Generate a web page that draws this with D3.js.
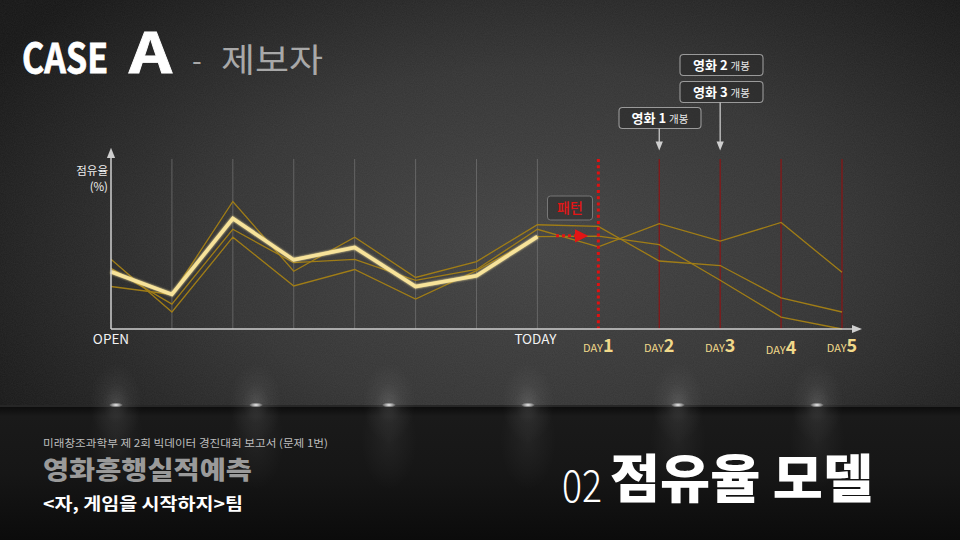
<!DOCTYPE html>
<html><head><meta charset="utf-8">
<script src="https://cdn.jsdelivr.net/npm/d3@7"></script>
<style>
html,body{margin:0;padding:0;background:#111;}
svg{display:block;}
text{font-family:"Noto Sans CJK KR","Noto Sans",sans-serif;}
</style></head>
<body>
<svg id="c" width="960" height="540"></svg>
<script>
// ---------- data ----------
const categories = ["OPEN","","","","","","","TODAY","DAY1","DAY2","DAY3","DAY4","DAY5"];
const dayLabels = ["1","2","3","4","5"];
const mainSeries = [10.1, 6.1, 19.5, 12.2, 14.4, 7.5, 9.4, 16.3];
const thinSeriesA = [12.3, 3.0, 16.2, 7.6, 10.5, 5.3, 10.3, 16.3, 16.4, 14.9, 8.6, 2.1, 0.0];
const thinSeriesB = [10.7, 4.4, 17.6, 11.7, 12.3, 8.6, 10.5, 17.6, 14.5, 18.6, 15.5, 18.8, 10.0];
const thinSeriesC = [7.5, 6.1, 22.5, 10.2, 16.2, 9.1, 11.9, 18.4, 18.1, 12.0, 11.2, 5.5, 3.0];
const releases = [
  {movie:"영화", num:"1", tail:"개봉", day:9},
  {movie:"영화", num:"2", tail:"개봉", day:10},
  {movie:"영화", num:"3", tail:"개봉", day:10}
];
const yAxisTitle = ["점유율","(%)"];
const patternLabel = "패턴";

// ---------- setup ----------
const svg = d3.select("#c");
const defs = svg.append("defs");

const bg = defs.append("radialGradient").attr("id","bg")
  .attr("cx","0.55").attr("cy","0.45").attr("r","0.65");
bg.append("stop").attr("offset","0").attr("stop-color","#434343");
bg.append("stop").attr("offset","0.5").attr("stop-color","#343434");
bg.append("stop").attr("offset","1").attr("stop-color","#161616");

const floor = defs.append("linearGradient").attr("id","floor").attr("x1",0).attr("y1",0).attr("x2",0).attr("y2",1);
floor.append("stop").attr("offset","0").attr("stop-color","#0d0d0d");
floor.append("stop").attr("offset","0.07").attr("stop-color","#1a1a1a");
floor.append("stop").attr("offset","0.5").attr("stop-color","#161616");
floor.append("stop").attr("offset","1").attr("stop-color","#0b0b0b");

const cone = defs.append("radialGradient").attr("id","cone");
cone.append("stop").attr("offset","0").attr("stop-color","#fff").attr("stop-opacity",0.13);
cone.append("stop").attr("offset","0.5").attr("stop-color","#fff").attr("stop-opacity",0.04);
cone.append("stop").attr("offset","1").attr("stop-color","#fff").attr("stop-opacity",0);

const refl = defs.append("radialGradient").attr("id","refl");
refl.append("stop").attr("offset","0").attr("stop-color","#fff").attr("stop-opacity",0.05);
refl.append("stop").attr("offset","1").attr("stop-color","#fff").attr("stop-opacity",0);

const spot = defs.append("radialGradient").attr("id","spot");
spot.append("stop").attr("offset","0").attr("stop-color","#fff").attr("stop-opacity",1);
spot.append("stop").attr("offset","0.5").attr("stop-color","#ddd").attr("stop-opacity",0.6);
spot.append("stop").attr("offset","1").attr("stop-color","#fff").attr("stop-opacity",0);

const noise = defs.append("filter").attr("id","noise").attr("x",0).attr("y",0).attr("width","100%").attr("height","100%");
noise.append("feTurbulence").attr("type","fractalNoise").attr("baseFrequency","0.9").attr("numOctaves","2").attr("seed","3").attr("result","n");
noise.append("feColorMatrix").attr("type","matrix")
  .attr("values","0 0 0 0 1  0 0 0 0 1  0 0 0 0 1  0 0 0 0.06 0");

const glow = defs.append("filter").attr("id","glow").attr("x","-10%").attr("y","-10%").attr("width","120%").attr("height","120%");
glow.append("feGaussianBlur").attr("stdDeviation","0.8").attr("result","b");
const gm = glow.append("feMerge");
gm.append("feMergeNode").attr("in","b");
gm.append("feMergeNode").attr("in","SourceGraphic");

const arrowW = defs.append("marker").attr("id","arrW").attr("viewBox","0 0 10 10")
  .attr("refX",5).attr("refY",5).attr("markerWidth",7).attr("markerHeight",7).attr("orient","auto");
arrowW.append("path").attr("d","M0,1 L10,5 L0,9 Z").attr("fill","#cfcfcf");
const arrowR = defs.append("marker").attr("id","arrR").attr("viewBox","0 0 10 10")
  .attr("refX",6).attr("refY",5).attr("markerWidth",4.5).attr("markerHeight",4.5).attr("orient","auto");
arrowR.append("path").attr("d","M0,0 L10,5 L0,10 Z").attr("fill","#e31515");

svg.append("rect").attr("width",960).attr("height",540).attr("fill","url(#bg)");
svg.append("rect").attr("width",960).attr("height",410).attr("filter","url(#noise)");

// floor
svg.append("rect").attr("x",0).attr("y",407).attr("width",960).attr("height",133).attr("fill","url(#floor)");
svg.append("rect").attr("x",0).attr("y",405).attr("width",960).attr("height",2).attr("fill","#262626");
const lightsX = [116, 256, 389, 528, 678, 817];
lightsX.forEach(lx => {
  svg.append("ellipse").attr("cx",lx).attr("cy",403).attr("rx",26).attr("ry",40).attr("fill","url(#cone)");
  svg.append("ellipse").attr("cx",lx).attr("cy",440).attr("rx",28).attr("ry",50).attr("fill","url(#refl)");
  svg.append("ellipse").attr("cx",lx).attr("cy",405).attr("rx",7).attr("ry",2.4).attr("fill","url(#spot)");
});

// ---------- title ----------
svg.append("text").attr("x",22).attr("y",73).attr("font-family","'Noto Sans',sans-serif")
  .attr("font-weight",700).attr("font-size",40).attr("fill","#fff").attr("stroke","#fff").attr("stroke-width",0.8)
  .attr("textLength",86).attr("lengthAdjust","spacingAndGlyphs").text("CASE");
svg.append("text").attr("x",129).attr("y",73).attr("font-family","'Noto Sans',sans-serif")
  .attr("font-weight",700).attr("font-size",56).attr("fill","#fff").attr("stroke","#fff").attr("stroke-width",0.8)
  .attr("textLength",43).attr("lengthAdjust","spacingAndGlyphs").text("A");
svg.append("text").attr("x",192).attr("y",71).attr("font-size",28).attr("fill","#a8a8a8").text("-");
svg.append("text").attr("x",221).attr("y",72).attr("font-size",33).attr("fill","#a8a8a8")
  .attr("textLength",102).attr("lengthAdjust","spacingAndGlyphs").text("제보자");

// ---------- chart ----------
const x = d3.scaleLinear().domain([0, categories.length-1]).range([111, 842]);
const y = d3.scaleLinear().domain([0, 30]).range([329, 159]);
const todayIdx = categories.indexOf("TODAY");
const day1Idx = categories.indexOf("DAY1");

d3.range(1, todayIdx+1).forEach(i => {
  svg.append("line").attr("x1",x(i)).attr("x2",x(i)).attr("y1",y(30)).attr("y2",y(0))
    .attr("stroke","#6e6e6e").attr("stroke-width",1).attr("opacity",0.8);
});
d3.range(day1Idx+1, categories.length).forEach(i => {
  svg.append("line").attr("x1",x(i)).attr("x2",x(i)).attr("y1",y(30)).attr("y2",y(0))
    .attr("stroke","#8a1515").attr("stroke-width",1.2);
});

const line = d3.line().x((d,i)=>x(i)).y(d=>y(d));
[thinSeriesA, thinSeriesB, thinSeriesC].forEach(s => {
  svg.append("path").attr("d",line(s)).attr("fill","none")
    .attr("stroke","#a07d16").attr("stroke-width",1.3).attr("stroke-linejoin","miter");
});
svg.append("path").attr("d",line(mainSeries)).attr("fill","none")
  .attr("stroke","#f7e39a").attr("stroke-width",3.6).attr("stroke-linejoin","miter")
  .attr("filter","url(#glow)");

svg.append("line").attr("x1",x(day1Idx)).attr("x2",x(day1Idx)).attr("y1",y(30)).attr("y2",y(0))
  .attr("stroke","#e01010").attr("stroke-width",3).attr("stroke-dasharray","3,3.2");

svg.append("line").attr("x1",x(0)).attr("x2",x(0)).attr("y1",y(0)).attr("y2",153)
  .attr("stroke","#cfcfcf").attr("stroke-width",1.5).attr("marker-end","url(#arrW)");
svg.append("line").attr("x1",x(0)).attr("x2",857).attr("y1",y(0)).attr("y2",y(0))
  .attr("stroke","#cfcfcf").attr("stroke-width",1.5).attr("marker-end","url(#arrW)");

svg.append("text").attr("x",108).attr("y",175).attr("text-anchor","end").attr("font-size",11.5)
  .attr("fill","#eee").text(yAxisTitle[0]);
svg.append("text").attr("x",108).attr("y",191).attr("text-anchor","end").attr("font-size",11.5)
  .attr("fill","#eee").text(yAxisTitle[1]);

svg.append("text").attr("x",x(0)).attr("y",344).attr("text-anchor","middle").attr("font-size",13.5)
  .attr("font-family","'Open Sans','Noto Sans',sans-serif").attr("fill","#f2f2f2").text(categories[0]);
svg.append("text").attr("x",x(todayIdx)-2).attr("y",344).attr("text-anchor","middle").attr("font-size",13.5)
  .attr("font-family","'Open Sans','Noto Sans',sans-serif").attr("fill","#f2f2f2").text(categories[todayIdx]);
const dayBaseline = [352, 352, 352, 354, 352];
dayLabels.forEach((d,k) => {
  const t = svg.append("text").attr("x",x(day1Idx+k)).attr("y",dayBaseline[k]).attr("text-anchor","middle")
    .attr("font-family","'Open Sans','Noto Sans',sans-serif").attr("fill","#f1d98a");
  t.append("tspan").attr("font-size",11).text("DAY");
  t.append("tspan").attr("font-size",18).attr("font-weight",700).text(d);
});

svg.append("rect").attr("x",547.5).attr("y",196).attr("width",45).attr("height",24).attr("rx",3)
  .attr("fill","#2f2f2f").attr("fill-opacity",0.6).attr("stroke","#777").attr("stroke-width",1);
svg.append("text").attr("x",570).attr("y",213).attr("text-anchor","middle").attr("font-size",14)
  .attr("font-weight",500).attr("fill","#e31515").text(patternLabel);
svg.append("line").attr("x1",556).attr("x2",583).attr("y1",y(mainSeries[todayIdx])-0.8).attr("y2",y(mainSeries[todayIdx])-0.8)
  .attr("stroke","#e31515").attr("stroke-width",3).attr("stroke-dasharray","3,3").attr("marker-end","url(#arrR)");

const boxes = [
  {r:releases[0], x0:619, y0:107.5, w:82, h:21},
  {r:releases[1], x0:680, y0:54.5, w:83, h:21},
  {r:releases[2], x0:680, y0:81.5, w:83, h:21}
];
boxes.forEach(b => {
  svg.append("rect").attr("x",b.x0).attr("y",b.y0).attr("width",b.w).attr("height",b.h).attr("rx",3.5)
    .attr("fill","#2a2a2a").attr("fill-opacity",0.55).attr("stroke","#9a9a9a").attr("stroke-width",1.1);
  const t = svg.append("text").attr("x",b.x0+b.w/2).attr("y",b.y0+15.5).attr("text-anchor","middle").attr("fill","#fff");
  t.append("tspan").attr("font-size",13).attr("font-weight",700).text(b.r.movie+" ");
  t.append("tspan").attr("font-size",13).attr("font-weight",700).text(b.r.num+" ");
  t.append("tspan").attr("font-size",10.5).attr("fill","#e8e8e8").text(b.r.tail);
});
[[boxes[0], releases[0].day],[boxes[2], releases[2].day]].forEach(([b,day]) => {
  svg.append("line").attr("x1",x(day)).attr("x2",x(day)).attr("y1",b.y0+b.h).attr("y2",146)
    .attr("stroke","#c8c8c8").attr("stroke-width",1.3).attr("marker-end","url(#arrW)");
});

// ---------- footer ----------
svg.append("text").attr("x",43).attr("y",447).attr("font-size",10.5).attr("fill","#bdbdbd")
  .attr("textLength",285).attr("lengthAdjust","spacingAndGlyphs")
  .text("미래창조과학부 제 2회 빅데이터 경진대회 보고서 (문제 1번)");
svg.append("text").attr("x",43).attr("y",479).attr("font-size",25).attr("font-weight",900).attr("fill","#9a9a9a")
  .attr("textLength",209).attr("lengthAdjust","spacingAndGlyphs").text("영화흥행실적예측");
svg.append("text").attr("x",43).attr("y",510).attr("font-size",17).attr("font-weight",700).attr("fill","#fff")
  .attr("textLength",200).attr("lengthAdjust","spacingAndGlyphs").text("<자, 게임을 시작하지>팀");
svg.append("text").attr("x",562).attr("y",502).attr("font-size",44).attr("font-weight",300)
  .attr("font-family","'Open Sans','Noto Sans',sans-serif").attr("fill","#fff")
  .attr("textLength",40).attr("lengthAdjust","spacingAndGlyphs").text("02");
svg.append("text").attr("x",610).attr("y",498).attr("font-size",52).attr("font-weight",900).attr("fill","#fff")
  .attr("textLength",263).attr("lengthAdjust","spacingAndGlyphs").text("점유율 모델");
</script>
</body></html>
